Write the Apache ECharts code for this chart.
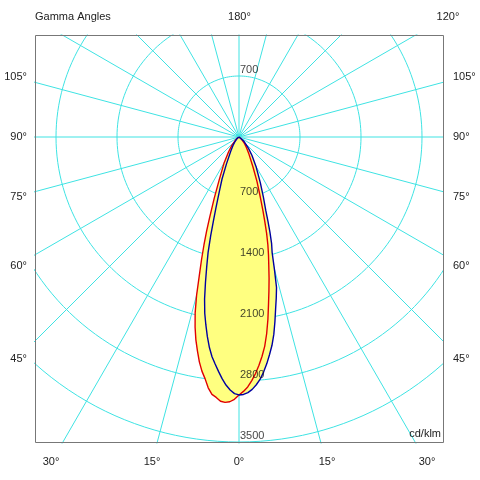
<!DOCTYPE html>
<html>
<head>
<meta charset="utf-8">
<script src="https://cdn.jsdelivr.net/npm/echarts@6/dist/echarts.min.js"></script>
<style>
html,body{margin:0;padding:0;background:#fff}
#chart{width:480px;height:480px}
</style>
</head>
<body>
<div id="chart"></div>
<script>
// gamma angles (deg from nadir) and intensities (cd/klm) for each half plane
let gammaAngles = [0,1,2,3,4,5,6,7,8,9,10,11,12,13,14,15,16,17,18,19,20,22,25,30,35,40,50,60,70,90]
let redLeft   = [2960,3010,3040,3050,3040,3000,2970,2900,2800,2720,2620,2500,2380,2240,2080,1880,1650,1470,1300,1140,990,760,530,340,210,130,50,20,8,0]
let redRight  = [2960,2920,2870,2800,2720,2630,2530,2420,2280,2120,1950,1800,1660,1520,1400,1280,1150,1010,890,780,690,550,380,230,150,100,40,15,5,0]
let blueLeft  = [2960,2945,2905,2850,2780,2700,2620,2540,2440,2320,2190,2060,1900,1710,1530,1370,1180,1000,860,740,650,520,340,190,120,80,30,10,4,0]
let blueRight = [2960,2955,2935,2900,2850,2790,2710,2620,2520,2420,2300,2160,2020,1900,1780,1570,1380,1280,1150,1020,900,750,580,390,260,170,70,25,8,0]

let ringValues = [700,1400,2100,2800,3500]
let spokeStep = 15
let leftLabels = ['105°','90°','75°','60°','45°']
let rightLabels = ['105°','90°','75°','60°','45°']
let bottomLabels = ['30°','15°','0°','15°','30°']
let topLabels = ['180°','120°']

// layout (px)
let sideY = [77,137,197,266,359]
let bottomX = [51,152,239,327,427]
let topX = [239.5,448]

const GRID = '#3fe3e3'
const FONT = '11px "Liberation Sans", Arial, sans-serif'
const K = 3500 / 305   // cd per pixel, 3500 ring = 305 px

// gamma measured from nadir, side -1 = left half, +1 = right half
function toXY(g, v, side){
    let a = g * Math.PI / 180
    return [side * v * Math.sin(a), -v * Math.cos(a)]
}
function buildCurve(left, right){
    let pts = []
    for(let i = gammaAngles.length - 1; i >= 0; i--){
        pts.push(toXY(gammaAngles[i], right[i], 1))
    }
    for(let i = 0; i < gammaAngles.length; i++){
        pts.push(toXY(gammaAngles[i], left[i], -1))
    }
    return pts
}
let redCurve = buildCurve(redLeft, redRight)
let blueCurve = buildCurve(blueLeft, blueRight)

// grid rings and spokes
let ringSeries = ringValues.map(v => {
    let pts = []
    for(let a = 0; a <= 360; a += 2){
        pts.push(toXY(a, v, 1))
    }
    return { type: 'line', data: pts, showSymbol: false, silent: true, z: 1, lineStyle: { color: GRID, width: 1 } }
})
let spokeSeries = []
for(let a = 0; a < 360; a += spokeStep){
    spokeSeries.push({ type: 'line', data: [[0, 0], toXY(a, 4500, 1)], showSymbol: false, silent: true, z: 1, lineStyle: { color: GRID, width: 1 } })
}

let ringLabelData = [[0, ringValues[0]]].concat(ringValues.map(v => [0, -v]))

function txt(text, x, y, align){
    return {
        type: 'text', x: x, y: y, z: 101,
        style: { text: text, font: FONT, fill: '#222', align: align, textAlign: align, verticalAlign: 'middle', textVerticalAlign: 'middle' }
    }
}
let graphics = [
    { type: 'rect', z: 100, shape: { x: 35.5, y: 35.5, width: 408, height: 407 }, style: { fill: 'none', stroke: '#777', lineWidth: 1 } },
    txt('Gamma Angles', 35, 17, 'left'),
    txt('cd/klm', 441, 434, 'right')
]
leftLabels.forEach((t, i) => graphics.push(txt(t, 27, sideY[i], 'right')))
rightLabels.forEach((t, i) => graphics.push(txt(t, 453, sideY[i], 'left')))
bottomLabels.forEach((t, i) => graphics.push(txt(t, bottomX[i], 462, 'center')))
topLabels.forEach((t, i) => graphics.push(txt(t, topX[i], 17, 'center')))

let myChart = echarts.init(document.getElementById('chart'))
let option = {
    animation: false,
    grid: { left: 35, top: 35, right: 37, bottom: 37, show: false },
    xAxis: { type: 'value', min: -204 * K, max: 204 * K, show: false },
    yAxis: { type: 'value', min: -306 * K, max: 102 * K, show: false },
    series: ringSeries.concat(spokeSeries).concat([
        {
            name: 'fill', type: 'custom', data: [[0, 0], [1, 0]], z: 2, silent: true,
            renderItem: function (params, api) {
                let curve = [redCurve, blueCurve][api.value(0)]
                return { type: 'polygon', shape: { points: curve.map(p => api.coord(p)) }, style: { fill: '#ffff80' } }
            }
        },
        {
            name: 'C0-C180', type: 'line', data: redCurve, showSymbol: false, z: 3,
            lineStyle: { color: '#e00000', width: 1.4 }
        },
        {
            name: 'C90-C270', type: 'line', data: blueCurve, showSymbol: false, z: 4,
            lineStyle: { color: '#0000a0', width: 1.4 }
        },
        {
            name: 'ring labels', type: 'scatter', data: ringLabelData, symbolSize: 0, z: 5,
            label: {
                show: true, position: 'right', distance: 1, offset: [0, -6],
                color: '#111', fontSize: 11, fontFamily: '"Liberation Sans", Arial, sans-serif',
                formatter: function (p) { return Math.abs(p.value[1]) }
            }
        }
    ]),
    graphic: graphics
}
myChart.setOption(option)
</script>
</body>
</html>
